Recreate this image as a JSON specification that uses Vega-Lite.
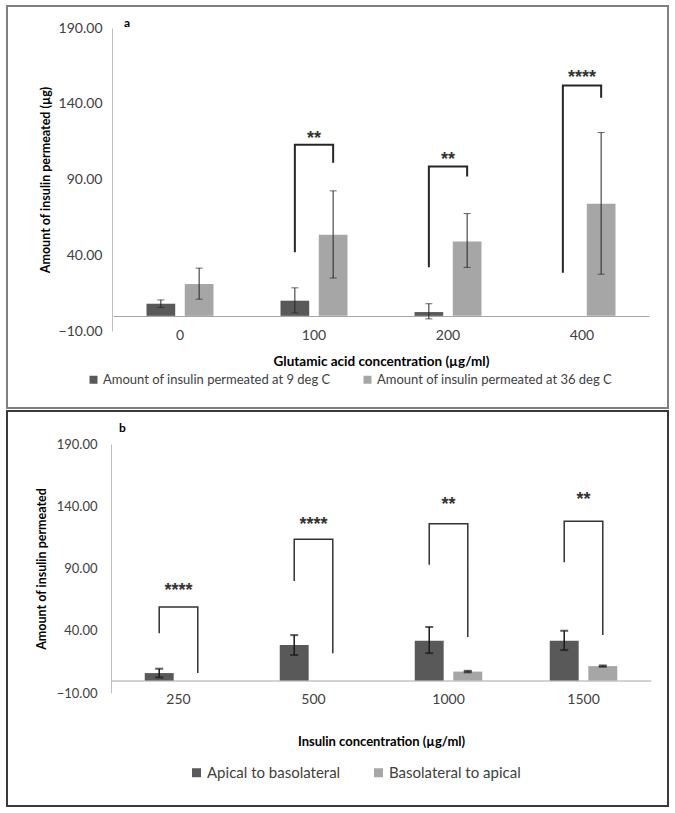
{
  "$schema": "https://vega.github.io/schema/vega-lite/v6.json",
  "padding": {"left": 6, "top": 5, "right": 0, "bottom": 0},
  "background": "white",
  "spacing": 1,
  "config": {"font": "Lato", "legend": {"padding": 0}},
  "resolve": {"scale": {"color": "independent", "xOffset": "independent", "x": "independent", "y": "independent"}, "legend": {"color": "independent"}},
  "datasets": {
    "barsA": [
      {"conc": 0, "series": "Amount of insulin permeated at 9 deg C", "value": 8, "lo": 5.5, "hi": 10.5},
      {"conc": 0, "series": "Amount of insulin permeated at 36 deg C", "value": 21, "lo": 11, "hi": 31.5},
      {"conc": 100, "series": "Amount of insulin permeated at 9 deg C", "value": 10, "lo": 2, "hi": 18.5},
      {"conc": 100, "series": "Amount of insulin permeated at 36 deg C", "value": 53.5, "lo": 25, "hi": 82.5},
      {"conc": 200, "series": "Amount of insulin permeated at 9 deg C", "value": 2.5, "lo": -2, "hi": 8},
      {"conc": 200, "series": "Amount of insulin permeated at 36 deg C", "value": 49, "lo": 32, "hi": 67.5},
      {"conc": 400, "series": "Amount of insulin permeated at 9 deg C", "value": 0, "lo": null, "hi": null},
      {"conc": 400, "series": "Amount of insulin permeated at 36 deg C", "value": 74, "lo": 27.5, "hi": 121}
    ],
    "bracketsA": [
      {"id": "a100", "seq": 1, "conc": 100, "series": "Amount of insulin permeated at 9 deg C", "y": 42},
      {"id": "a100", "seq": 2, "conc": 100, "series": "Amount of insulin permeated at 9 deg C", "y": 113},
      {"id": "a100", "seq": 3, "conc": 100, "series": "Amount of insulin permeated at 36 deg C", "y": 113},
      {"id": "a100", "seq": 4, "conc": 100, "series": "Amount of insulin permeated at 36 deg C", "y": 101},
      {"id": "a200", "seq": 1, "conc": 200, "series": "Amount of insulin permeated at 9 deg C", "y": 32},
      {"id": "a200", "seq": 2, "conc": 200, "series": "Amount of insulin permeated at 9 deg C", "y": 98.5},
      {"id": "a200", "seq": 3, "conc": 200, "series": "Amount of insulin permeated at 36 deg C", "y": 98.5},
      {"id": "a200", "seq": 4, "conc": 200, "series": "Amount of insulin permeated at 36 deg C", "y": 92},
      {"id": "a400", "seq": 1, "conc": 400, "series": "Amount of insulin permeated at 9 deg C", "y": 28.5},
      {"id": "a400", "seq": 2, "conc": 400, "series": "Amount of insulin permeated at 9 deg C", "y": 152},
      {"id": "a400", "seq": 3, "conc": 400, "series": "Amount of insulin permeated at 36 deg C", "y": 152},
      {"id": "a400", "seq": 4, "conc": 400, "series": "Amount of insulin permeated at 36 deg C", "y": 144}
    ],
    "starsA": [
      {"conc": 100, "label": "**", "y": 120},
      {"conc": 200, "label": "**", "y": 106},
      {"conc": 400, "label": "****", "y": 160}
    ],
    "barsB": [
      {"conc": 250, "series": "Apical to basolateral", "value": 6, "lo": 2.5, "hi": 9.5},
      {"conc": 250, "series": "Basolateral to apical", "value": 0, "lo": null, "hi": null},
      {"conc": 500, "series": "Apical to basolateral", "value": 28.5, "lo": 20.5, "hi": 36.5},
      {"conc": 500, "series": "Basolateral to apical", "value": 0, "lo": null, "hi": null},
      {"conc": 1000, "series": "Apical to basolateral", "value": 32, "lo": 22, "hi": 43},
      {"conc": 1000, "series": "Basolateral to apical", "value": 7.2, "lo": 6.6, "hi": 7.8},
      {"conc": 1500, "series": "Apical to basolateral", "value": 32, "lo": 24.5, "hi": 40},
      {"conc": 1500, "series": "Basolateral to apical", "value": 11.6, "lo": 11.1, "hi": 12.1}
    ],
    "bracketsB": [
      {"id": "b250", "seq": 1, "conc": 250, "series": "Apical to basolateral", "y": 38},
      {"id": "b250", "seq": 2, "conc": 250, "series": "Apical to basolateral", "y": 59},
      {"id": "b250", "seq": 3, "conc": 250, "series": "Basolateral to apical", "y": 59},
      {"id": "b250", "seq": 4, "conc": 250, "series": "Basolateral to apical", "y": 6},
      {"id": "b500", "seq": 1, "conc": 500, "series": "Apical to basolateral", "y": 80},
      {"id": "b500", "seq": 2, "conc": 500, "series": "Apical to basolateral", "y": 113.5},
      {"id": "b500", "seq": 3, "conc": 500, "series": "Basolateral to apical", "y": 113.5},
      {"id": "b500", "seq": 4, "conc": 500, "series": "Basolateral to apical", "y": 22},
      {"id": "b1000", "seq": 1, "conc": 1000, "series": "Apical to basolateral", "y": 93},
      {"id": "b1000", "seq": 2, "conc": 1000, "series": "Apical to basolateral", "y": 126},
      {"id": "b1000", "seq": 3, "conc": 1000, "series": "Basolateral to apical", "y": 126},
      {"id": "b1000", "seq": 4, "conc": 1000, "series": "Basolateral to apical", "y": 35},
      {"id": "b1500", "seq": 1, "conc": 1500, "series": "Apical to basolateral", "y": 95},
      {"id": "b1500", "seq": 2, "conc": 1500, "series": "Apical to basolateral", "y": 128},
      {"id": "b1500", "seq": 3, "conc": 1500, "series": "Basolateral to apical", "y": 128},
      {"id": "b1500", "seq": 4, "conc": 1500, "series": "Basolateral to apical", "y": 36.5}
    ],
    "starsB": [
      {"conc": 250, "label": "****", "y": 76},
      {"conc": 500, "label": "****", "y": 129},
      {"conc": 1000, "label": "**", "y": 145},
      {"conc": 1500, "label": "**", "y": 149}
    ]
  },
  "vconcat": [
    {
      "width": 661,
      "height": 402,
      "view": {"stroke": "#808080", "strokeWidth": 2},
      "encoding": {
        "x": {"field": "conc", "type": "ordinal",
          "scale": {"domain": [0, 100, 200, 400], "range": [106, 642], "paddingInner": 0.5, "paddingOuter": 0.25},
          "axis": {"orient": "bottom", "offset": -92, "ticks": false, "domainColor": "#a6a6a6", "domainWidth": 1, "labelAngle": 0, "labelFontSize": 14, "labelColor": "#404040", "labelPadding": 12, "title": "Glutamic acid concentration (µg/ml)", "titleFontSize": 13.5, "titleFontWeight": "bold", "titleColor": "#000000", "titlePadding": 12}},
        "y": {"type": "quantitative",
          "scale": {"domain": [-10, 190], "range": [325, 22], "nice": false, "zero": false},
          "axis": {"values": [-10, 40, 90, 140, 190], "format": ".2f", "offset": -105, "ticks": false, "grid": false, "domainColor": "#bfbfbf", "labelFontSize": 14, "labelColor": "#404040", "labelPadding": 10, "title": "Amount of insulin permeated (µg)", "titleFontSize": 12.5, "titleFontWeight": "bold", "titleColor": "#000000", "titlePadding": 6}}
      },
      "layer": [
        {
          "data": {"name": "barsA"},
          "mark": {"type": "bar"},
          "encoding": {
            "xOffset": {"field": "series", "type": "nominal", "scale": {"domain": ["Amount of insulin permeated at 9 deg C", "Amount of insulin permeated at 36 deg C"], "paddingInner": 0.25, "paddingOuter": 0}},
            "y": {"field": "value", "type": "quantitative"},
            "y2": {"datum": 0},
            "color": {"field": "series", "type": "nominal",
              "scale": {"domain": ["Amount of insulin permeated at 9 deg C", "Amount of insulin permeated at 36 deg C"], "range": ["#595959", "#a6a6a6"]},
              "legend": {"orient": "none", "legendX": 80, "legendY": 367, "direction": "horizontal", "title": null, "symbolType": "square", "symbolSize": 64, "symbolStrokeWidth": 0, "labelFontSize": 13, "labelColor": "#404040", "labelOffset": 3, "columnPadding": 30, "labelLimit": 400}}
          }
        },
        {
          "data": {"name": "barsA"},
          "mark": {"type": "rule", "color": "#262626", "strokeWidth": 1},
          "encoding": {
            "xOffset": {"field": "series", "type": "nominal"},
            "y": {"field": "lo", "type": "quantitative"},
            "y2": {"field": "hi"}
          }
        },
        {
          "data": {"name": "barsA"},
          "mark": {"type": "tick", "color": "#262626", "size": 7, "thickness": 1},
          "encoding": {
            "xOffset": {"field": "series", "type": "nominal"},
            "y": {"field": "lo", "type": "quantitative"}
          }
        },
        {
          "data": {"name": "barsA"},
          "mark": {"type": "tick", "color": "#262626", "size": 7, "thickness": 1},
          "encoding": {
            "xOffset": {"field": "series", "type": "nominal"},
            "y": {"field": "hi", "type": "quantitative"}
          }
        },
        {
          "data": {"name": "bracketsA"},
          "mark": {"type": "line", "color": "#262626", "strokeWidth": 2},
          "encoding": {
            "xOffset": {"field": "series", "type": "nominal"},
            "y": {"field": "y", "type": "quantitative"},
            "detail": {"field": "id"},
            "order": {"field": "seq"}
          }
        },
        {
          "data": {"name": "starsA"},
          "mark": {"type": "text", "font": "Liberation Sans", "fontSize": 18, "fontWeight": "bold", "color": "#333333", "baseline": "middle", "dy": 5},
          "encoding": {
            "y": {"field": "y", "type": "quantitative"},
            "text": {"field": "label"}
          }
        },
        {
          "data": {"values": [{"panel": "a"}]},
          "mark": {"type": "text", "fontSize": 12, "fontWeight": "bold", "color": "#000000", "baseline": "middle", "dx": -53, "dy": -5},
          "encoding": {
            "x": {"datum": 0},
            "y": {"datum": 190},
            "text": {"field": "panel"}
          }
        }
      ]
    },
    {
      "width": 661,
      "height": 395,
      "view": {"stroke": "#3a3a3a", "strokeWidth": 2},
      "encoding": {
        "x": {"field": "conc", "type": "ordinal",
          "scale": {"domain": [250, 500, 1000, 1500], "range": [104, 644], "paddingInner": 0.5, "paddingOuter": 0.25},
          "axis": {"orient": "bottom", "offset": -125.5, "ticks": false, "domainColor": "#a6a6a6", "domainWidth": 1, "labelAngle": 0, "labelFontSize": 14, "labelColor": "#404040", "labelPadding": 12, "title": "Insulin concentration (µg/ml)", "titleFontSize": 13, "titleFontWeight": "bold", "titleColor": "#000000", "titlePadding": 29}},
        "y": {"type": "quantitative",
          "scale": {"domain": [-10, 190], "range": [282, 33], "nice": false, "zero": false},
          "axis": {"values": [-10, 40, 90, 140, 190], "format": ".2f", "offset": -104, "ticks": false, "grid": false, "domainColor": "#bfbfbf", "labelFontSize": 13, "labelColor": "#404040", "labelPadding": 14, "title": "Amount of insulin permeated", "titleFontSize": 12.5, "titleFontWeight": "bold", "titleColor": "#000000", "titlePadding": 8}}
      },
      "layer": [
        {
          "data": {"name": "barsB"},
          "mark": {"type": "bar"},
          "encoding": {
            "xOffset": {"field": "series", "type": "nominal", "scale": {"domain": ["Apical to basolateral", "Basolateral to apical"], "paddingInner": 0.25, "paddingOuter": 0}},
            "y": {"field": "value", "type": "quantitative"},
            "y2": {"datum": 0},
            "color": {"field": "series", "type": "nominal",
              "scale": {"domain": ["Apical to basolateral", "Basolateral to apical"], "range": ["#595959", "#a6a6a6"]},
              "legend": {"orient": "none", "legendX": 182, "legendY": 354, "direction": "horizontal", "title": null, "symbolType": "square", "symbolSize": 81, "symbolStrokeWidth": 0, "labelFontSize": 15, "labelColor": "#404040", "labelOffset": 3, "columnPadding": 30, "labelLimit": 400}}
          }
        },
        {
          "data": {"name": "barsB"},
          "mark": {"type": "rule", "color": "#1a1a1a", "strokeWidth": 1.5},
          "encoding": {
            "xOffset": {"field": "series", "type": "nominal"},
            "y": {"field": "lo", "type": "quantitative"},
            "y2": {"field": "hi"}
          }
        },
        {
          "data": {"name": "barsB"},
          "mark": {"type": "tick", "color": "#1a1a1a", "size": 8, "thickness": 2},
          "encoding": {
            "xOffset": {"field": "series", "type": "nominal"},
            "y": {"field": "lo", "type": "quantitative"}
          }
        },
        {
          "data": {"name": "barsB"},
          "mark": {"type": "tick", "color": "#1a1a1a", "size": 8, "thickness": 2},
          "encoding": {
            "xOffset": {"field": "series", "type": "nominal"},
            "y": {"field": "hi", "type": "quantitative"}
          }
        },
        {
          "data": {"name": "bracketsB"},
          "mark": {"type": "line", "color": "#333333", "strokeWidth": 1.5},
          "encoding": {
            "xOffset": {"field": "series", "type": "nominal"},
            "y": {"field": "y", "type": "quantitative"},
            "detail": {"field": "id"},
            "order": {"field": "seq"}
          }
        },
        {
          "data": {"name": "starsB"},
          "mark": {"type": "text", "font": "Liberation Sans", "fontSize": 18, "fontWeight": "bold", "color": "#333333", "baseline": "middle", "dy": 5},
          "encoding": {
            "y": {"field": "y", "type": "quantitative"},
            "text": {"field": "label"}
          }
        },
        {
          "data": {"values": [{"panel": "b"}]},
          "mark": {"type": "text", "fontSize": 12, "fontWeight": "bold", "color": "#000000", "baseline": "middle", "dx": -56, "dy": -16},
          "encoding": {
            "x": {"datum": 250},
            "y": {"datum": 190},
            "text": {"field": "panel"}
          }
        }
      ]
    }
  ]
}
